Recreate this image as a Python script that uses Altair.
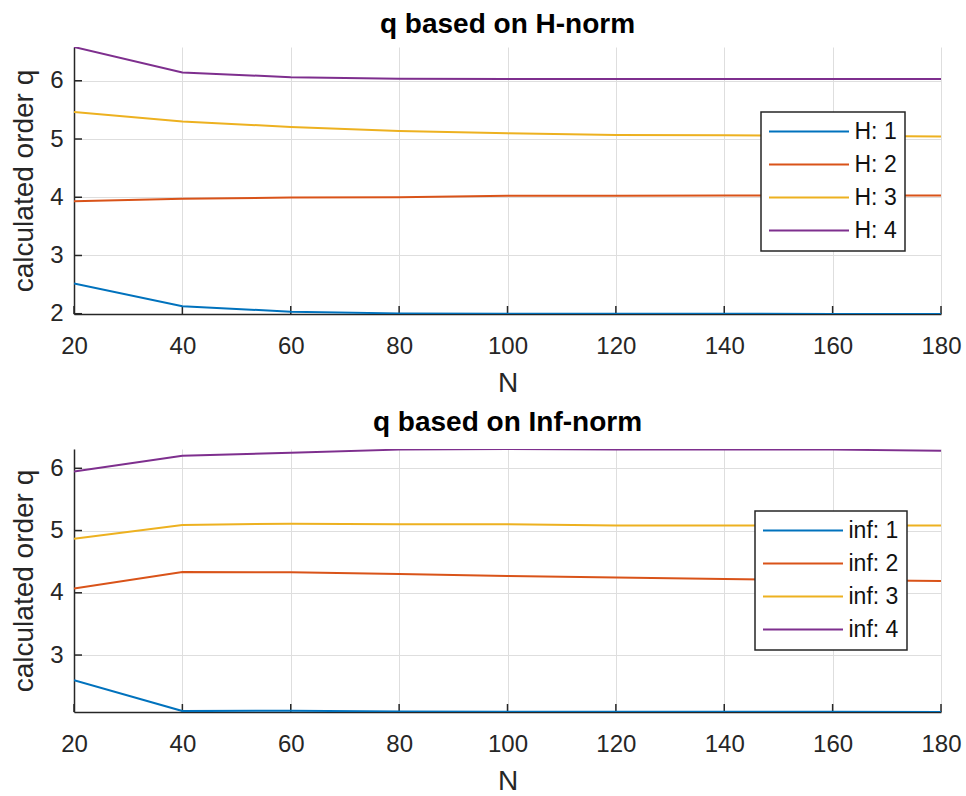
import altair as alt
import pandas as pd

# Grid sizes N at which the convergence order q was evaluated
n_values = [20, 40, 60, 80, 100, 120, 140, 160, 180]

# Order q computed from the H-norm error
h1 = [2.52, 2.13, 2.035, 2.005, 2.0, 2.0, 2.0, 1.995, 1.995]
h2 = [3.93, 3.975, 3.995, 4.0, 4.025, 4.025, 4.03, 4.03, 4.03]
h3 = [5.466, 5.30, 5.207, 5.138, 5.097, 5.069, 5.065, 5.057, 5.045]
h4 = [6.58, 6.143, 6.062, 6.034, 6.03, 6.03, 6.03, 6.03, 6.03]

# Order q computed from the infinity-norm error
inf1 = [2.595, 2.10, 2.105, 2.095, 2.09, 2.09, 2.09, 2.09, 2.085]
inf2 = [4.07, 4.335, 4.33, 4.30, 4.27, 4.245, 4.22, 4.205, 4.19]
inf3 = [4.87, 5.09, 5.11, 5.10, 5.10, 5.08, 5.08, 5.08, 5.08]
inf4 = [5.95, 6.20, 6.25, 6.30, 6.31, 6.30, 6.30, 6.30, 6.28]

h_labels = ["H: 1", "H: 2", "H: 3", "H: 4"]
inf_labels = ["inf: 1", "inf: 2", "inf: 3", "inf: 4"]

x_ticks = [20, 40, 60, 80, 100, 120, 140, 160, 180]
y_ticks = [2, 3, 4, 5, 6]

line_colors = ["#0072BD", "#D95319", "#EDB120", "#7E2F8E"]

FONT = "Liberation Sans"
AXIS_COLOR = "#262626"
PLOT_W = 867


def long_table(labels, series):
    rows = []
    for label, vals in zip(labels, series):
        for n, q in zip(n_values, vals):
            rows.append({"N": n, "q": q, "series": label})
    return pd.DataFrame(rows)


def panel(title, labels, series, height, legend_x, legend_y, title_offset):
    df = long_table(labels, series)
    qmin, qmax = float(df["q"].min()), float(df["q"].max())
    ticks_in = [t for t in y_ticks if qmin <= t <= qmax]

    x = alt.X(
        "N:Q",
        scale=alt.Scale(domain=[20, 180], nice=False, zero=False),
        axis=alt.Axis(values=x_ticks, title="N", labelPadding=20,
                      titlePadding=11, labelFlush=False),
    )
    y = alt.Y(
        "q:Q",
        scale=alt.Scale(domain=[qmin, qmax], nice=False, zero=False),
        axis=alt.Axis(values=ticks_in, title="calculated order q",
                      labelPadding=11, titlePadding=11, labelFlush=False),
    )

    # inward tick marks along the bottom and left axes
    x_tick_marks = alt.Chart(pd.DataFrame({"N": x_ticks})).mark_rule(
        color=AXIS_COLOR, strokeWidth=1.5
    ).encode(x=x, y=alt.value(height), y2=alt.value(height - 8))
    y_tick_marks = alt.Chart(pd.DataFrame({"q": ticks_in})).mark_rule(
        color=AXIS_COLOR, strokeWidth=1.5
    ).encode(y=y, x=alt.value(0), x2=alt.value(8))

    lines = alt.Chart(df).mark_line(strokeWidth=2, clip=True).encode(
        x=x,
        y=y,
        color=alt.Color(
            "series:N",
            scale=alt.Scale(domain=labels, range=line_colors),
            legend=alt.Legend(
                title=None,
                orient="none",
                legendX=legend_x,
                legendY=legend_y,
                symbolType="M-4,0L4,0",
                symbolSize=400,
                symbolStrokeWidth=2,
                symbolOffset=28.5,
                labelOffset=34,
                labelFont=FONT,
                labelFontSize=23,
                labelColor="#111111",
                rowPadding=9,
                padding=8,
                strokeColor=AXIS_COLOR,
                fillColor="white",
            ),
        ),
        order=alt.Order("N:Q"),
    )

    return alt.layer(x_tick_marks, y_tick_marks, lines).properties(
        width=PLOT_W,
        height=height,
        title=alt.TitleParams(
            text=title,
            font=FONT,
            fontSize=28,
            fontWeight="bold",
            color="black",
            anchor="middle",
            frame="group",
            baseline="alphabetic",
            offset=title_offset,
        ),
    )


top = panel("q based on H-norm", h_labels, [h1, h2, h3, h4],
            height=267, legend_x=687, legend_y=65, title_offset=-14)
bottom = panel("q based on Inf-norm", inf_labels, [inf1, inf2, inf3, inf4],
               height=263, legend_x=681, legend_y=62, title_offset=-10)

chart = (
    alt.vconcat(top, bottom, spacing=12)
    .resolve_scale(x="independent", y="independent", color="independent")
    .resolve_legend(color="independent")
    .properties(padding={"left": 10, "top": 11, "right": 0, "bottom": 0}, background="white")
    .configure_view(stroke=None)
    .configure_axis(
        labelFont=FONT,
        labelFontSize=24,
        labelColor=AXIS_COLOR,
        titleFont=FONT,
        titleFontSize=28,
        titleFontWeight="normal",
        titleColor=AXIS_COLOR,
        domainColor=AXIS_COLOR,
        domainWidth=1.5,
        ticks=False,
        grid=True,
        gridColor="#dedede",
        gridWidth=1,
    )
    .configure_legend(strokeWidth=1.5)
)

chart.save("out.html", embed_options={"renderer": "svg", "actions": False})
